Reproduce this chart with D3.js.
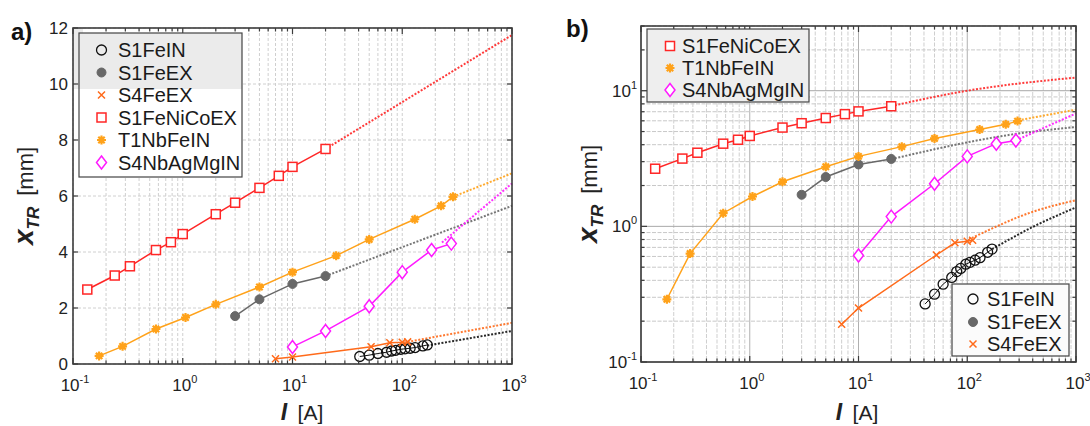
<!DOCTYPE html>
<html><head><meta charset="utf-8">
<script src="https://cdn.jsdelivr.net/npm/d3@7/dist/d3.min.js"></script>
<style>body{margin:0;background:#fff}svg{display:block;font-family:"Liberation Sans",Arial,sans-serif}</style>
</head><body><svg id="c" width="1090" height="426"></svg>
<script>
// ---------- data ----------
const seriesNames = ["S1FeIN","S1FeEX","S4FeEX","S1FeNiCoEX","T1NbFeIN","S4NbAgMgIN"];
const I_S1FeIN = [41,50,60,72,80,87,97,106,118,131,154,169];
const X_S1FeIN = [0.268,0.316,0.375,0.42,0.464,0.49,0.526,0.543,0.563,0.588,0.644,0.68];
const I_S1FeEX = [3,5,10,20];
const X_S1FeEX = [1.71,2.31,2.86,3.14];
const I_S4FeEX = [7,10,52,77,100,112];
const X_S4FeEX = [0.19,0.25,0.615,0.757,0.776,0.79];
const I_S1FeNiCoEX = [0.135,0.24,0.33,0.57,0.78,1.0,2.0,3.0,5.0,7.5,10,20];
const X_S1FeNiCoEX = [2.66,3.16,3.49,4.07,4.35,4.64,5.35,5.76,6.29,6.72,7.04,7.68];
const I_T1NbFeIN = [0.173,0.283,0.57,1.06,2.0,5.0,10,25,50,130,226,290];
const X_T1NbFeIN = [0.29,0.63,1.25,1.66,2.13,2.75,3.28,3.87,4.45,5.17,5.65,5.97];
const I_S4NbAgMgIN = [10,20,50,100,185,280];
const X_S4NbAgMgIN = [0.61,1.18,2.06,3.28,4.07,4.30];

// extrapolation (fit) lines, panel a (lin-log)
const fitA_I = {S1FeIN:[169,1000],S1FeEX:[20,1000],S4FeEX:[112,1000],S1FeNiCoEX:[20,1000],T1NbFeIN:[290,1000],S4NbAgMgIN:[230,1000]};
const fitA_X = {S1FeIN:[0.66,1.18],S1FeEX:[3.14,5.65],S4FeEX:[0.79,1.47],S1FeNiCoEX:[7.68,11.75],T1NbFeIN:[5.97,6.81],S4NbAgMgIN:[4.34,6.45]};
// extrapolation (fit) lines, panel b (log-log)
const fitB_I = {S1FeIN:[169,400,1000],S1FeEX:[20,294,1000],S4FeEX:[110,400,1000],S1FeNiCoEX:[20,100,1000],T1NbFeIN:[294,1000],S4NbAgMgIN:[280,1000]};
const fitB_X = {S1FeIN:[0.68,0.99,1.38],S1FeEX:[3.13,4.83,5.4],S4FeEX:[0.82,1.28,1.56],S1FeNiCoEX:[7.7,10.0,12.5],T1NbFeIN:[6.05,7.25],S4NbAgMgIN:[4.3,6.8]};

const yTicksA = [0,2,4,6,8,10,12];
const xMajor = [0.1,1,10,100,1000];
const yMajorB = [0.1,1,10];

// ---------- styles ----------
const colors = {S1FeIN:"#111",S1FeEX:"#686868",S4FeEX:"#ff6a1a",S1FeNiCoEX:"#ff2626",T1NbFeIN:"#ffa21a",S4NbAgMgIN:"#ff1aff"};
const markerType = {S1FeIN:"circleOpen",S1FeEX:"circleFill",S4FeEX:"x",S1FeNiCoEX:"square",T1NbFeIN:"star",S4NbAgMgIN:"diamond"};
const data = {
  S1FeIN:[I_S1FeIN,X_S1FeIN], S1FeEX:[I_S1FeEX,X_S1FeEX], S4FeEX:[I_S4FeEX,X_S4FeEX],
  S1FeNiCoEX:[I_S1FeNiCoEX,X_S1FeNiCoEX], T1NbFeIN:[I_T1NbFeIN,X_T1NbFeIN], S4NbAgMgIN:[I_S4NbAgMgIN,X_S4NbAgMgIN]
};
const zip = (a,b)=>a.map((v,i)=>[v,b[i]]);
const svg = d3.select("#c");

function drawMarker(g, type, x, y, color){
  if(type==="circleOpen") g.append("circle").attr("cx",x).attr("cy",y).attr("r",5).attr("fill","none").attr("stroke",color).attr("stroke-width",1.3);
  else if(type==="circleFill") g.append("circle").attr("cx",x).attr("cy",y).attr("r",4.5).attr("fill",color).attr("stroke",color);
  else if(type==="square") g.append("rect").attr("x",x-4.5).attr("y",y-4.5).attr("width",9).attr("height",9).attr("fill","#fff").attr("stroke",color).attr("stroke-width",1.5);
  else if(type==="diamond") g.append("path").attr("d",`M${x},${y-6.5}L${x+5},${y}L${x},${y+6.5}L${x-5},${y}Z`).attr("fill","#fff").attr("stroke",color).attr("stroke-width",1.5);
  else if(type==="x") g.append("path").attr("d",`M${x-3.5},${y-3.5}L${x+3.5},${y+3.5}M${x-3.5},${y+3.5}L${x+3.5},${y-3.5}`).attr("stroke",color).attr("stroke-width",1.5);
  else if(type==="star"){
    const r=4.5, q=3.2;
    g.append("path").attr("d",`M${x-r},${y}L${x+r},${y}M${x},${y-r}L${x},${y+r}M${x-q},${y-q}L${x+q},${y+q}M${x-q},${y+q}L${x+q},${y-q}`).attr("stroke",color).attr("stroke-width",2.2);
    g.append("circle").attr("cx",x).attr("cy",y).attr("r",2.6).attr("fill",color);
  }
}

function sup(textSel, base, exp){
  textSel.append("tspan").text(base);
  textSel.append("tspan").attr("font-size",11).attr("dy",-8).text(exp);
}

function panel(cfg){
  const {L,R,T,B,yLog} = cfg;
  const g = svg.append("g");
  const x = d3.scaleLog().domain([0.1,1000]).range([L,R]);
  const y = yLog ? d3.scaleLog().domain([0.1,30]).range([B,T]) : d3.scaleLinear().domain([0,12]).range([B,T]);
  const xt = x.ticks();
  // background artifact
  if(cfg.bgRect) g.append("rect").attr("x",cfg.bgRect[0]).attr("y",cfg.bgRect[1]).attr("width",cfg.bgRect[2]).attr("height",cfg.bgRect[3]).attr("fill","#ebebeb");
  // grid
  const grid = g.append("g");
  xt.forEach(v=>{
    const maj = xMajor.includes(v);
    grid.append("line").attr("x1",x(v)).attr("x2",x(v)).attr("y1",T).attr("y2",B)
      .attr("stroke", yLog ? (maj?"#b0b0b0":"#cfcfcf") : "#cfcfcf").attr("stroke-width",1)
      .attr("stroke-dasharray", yLog ? (maj?null:"4,1.5") : "3,2");
  });
  const yt = yLog ? y.ticks() : yTicksA;
  yt.forEach(v=>{
    const maj = yLog ? yMajorB.includes(v) : true;
    grid.append("line").attr("x1",L).attr("x2",R).attr("y1",y(v)).attr("y2",y(v))
      .attr("stroke", yLog ? (maj?"#a8a8a8":"#c8c8c8") : "#d0d0d0").attr("stroke-width",1)
      .attr("stroke-dasharray", yLog ? (maj?null:"4,1.5") : "3,2");
  });
  // fits
  const fI = cfg.fitI, fX = cfg.fitX;
  const lineGen = d3.line().x(d=>x(d[0])).y(d=>y(d[1])).curve(yLog? d3.curveMonotoneX : d3.curveLinear);
  seriesNames.forEach(n=>{
    g.append("path").attr("d",lineGen(zip(fI[n],fX[n]))).attr("fill","none")
      .attr("stroke",colors[n]).attr("stroke-width",2).attr("stroke-dasharray","2,1.6").attr("opacity",0.9);
  });
  // data lines
  const dl = d3.line().x(d=>x(d[0])).y(d=>y(d[1]));
  seriesNames.forEach(n=>{
    g.append("path").attr("d",dl(zip(data[n][0],data[n][1]))).attr("fill","none")
      .attr("stroke",colors[n]).attr("stroke-width", n==="S1FeIN"?1:1.5);
  });
  seriesNames.forEach(n=>{
    zip(data[n][0],data[n][1]).forEach(p=>drawMarker(g,markerType[n],x(p[0]),y(p[1]),colors[n]));
  });
  // box & ticks
  const ax = g.append("g").attr("stroke","#3c3c3c");
  ax.append("rect").attr("x",L).attr("y",T).attr("width",R-L).attr("height",B-T).attr("fill","none").attr("stroke-width",1.6);
  xt.forEach(v=>{
    const len = xMajor.includes(v)?6:3.5;
    ax.append("line").attr("x1",x(v)).attr("x2",x(v)).attr("y1",B).attr("y2",B-len).attr("stroke-width",1.2);
    ax.append("line").attr("x1",x(v)).attr("x2",x(v)).attr("y1",T).attr("y2",T+len).attr("stroke-width",1.2);
  });
  yt.forEach(v=>{
    const len = yLog ? (yMajorB.includes(v)?6:3.5) : 5;
    ax.append("line").attr("x1",L).attr("x2",L+len).attr("y1",y(v)).attr("y2",y(v)).attr("stroke-width",1.2);
    ax.append("line").attr("x1",R).attr("x2",R-len).attr("y1",y(v)).attr("y2",y(v)).attr("stroke-width",1.2);
  });
  // tick labels
  const tl = g.append("g").attr("font-size",17).attr("fill","#222");
  xMajor.forEach(v=>{
    const t = tl.append("text").attr("x",x(v)+2).attr("y",B+27).attr("text-anchor","middle");
    sup(t,"10",String(Math.round(Math.log10(v))).replace("-","-"));
  });
  if(yLog){
    yMajorB.forEach(v=>{
      const t = tl.append("text").attr("x",L-4).attr("y",y(v)+6).attr("text-anchor","end");
      sup(t,"10",String(Math.round(Math.log10(v))));
    });
  } else {
    yTicksA.forEach(v=>{
      tl.append("text").attr("x",L-5).attr("y",y(v)+6).attr("text-anchor","end").text(v);
    });
  }
  // axis titles
  const xtT = g.append("text").attr("x",cfg.xTitleX).attr("y",420).attr("text-anchor","middle").attr("fill","#222");
  xtT.append("tspan").attr("font-size",23).attr("font-weight","bold").attr("font-style","italic").text("I");
  xtT.append("tspan").attr("font-size",21).text("\u2002[A]");
  const ytT = g.append("text").attr("transform",`translate(${cfg.yTitleX},${(T+B)/2}) rotate(-90)`).attr("text-anchor","middle").attr("fill","#222");
  ytT.append("tspan").attr("font-size",28).attr("font-weight","bold").attr("font-style","italic").text("x");
  ytT.append("tspan").attr("font-size",17).attr("font-weight","bold").attr("font-style","italic").attr("dy",6).text("TR");
  ytT.append("tspan").attr("font-size",22).attr("dy",-6).text("\u2002[mm]");
  // panel letter
  g.append("text").attr("x",cfg.letter[1]).attr("y",cfg.letter[2]).attr("font-size",24).attr("font-weight","bold").attr("fill","#111").text(cfg.letter[0]);
  return g;
}

function legend(g, box, names, mx, tx, rows, fill, topFill){
  g.append("rect").attr("x",box[0]).attr("y",box[1]).attr("width",box[2]).attr("height",box[3]).attr("fill",fill);
  if(topFill) g.append("rect").attr("x",topFill[0]).attr("y",topFill[1]).attr("width",topFill[2]).attr("height",topFill[3]).attr("fill","#ebebeb");
  g.append("rect").attr("x",box[0]).attr("y",box[1]).attr("width",box[2]).attr("height",box[3]).attr("fill","none").attr("stroke","#444").attr("stroke-width",1.2);
  names.forEach((n,i)=>{
    drawMarker(g, markerType[n], mx, rows[i], colors[n]);
    g.append("text").attr("x",tx).attr("y",rows[i]+7).attr("font-size",20).attr("fill","#1a1a1a").text(n);
  });
}

const gA = panel({L:73,R:512,T:28,B:364,yLog:false,fitI:fitA_I,fitX:fitA_X,xTitleX:302,yTitleX:33,letter:["a)",11,40]});
legend(gA,[79,33,163,144],seriesNames,101.5,118,[50,72.5,95,117.5,140,162.5],"#fff",[79,33,163,56]);
// gray band to the left of legend in panel a
gA.insert("rect",":first-child").attr("x",73).attr("y",28).attr("width",10).attr("height",61).attr("fill","#ebebeb");

const gB = panel({L:641,R:1076,T:26,B:362,yLog:true,fitI:fitB_I,fitX:fitB_X,xTitleX:857,yTitleX:597,letter:["b)",566,37]});
legend(gB,[647,29,162,73],["S1FeNiCoEX","T1NbFeIN","S4NbAgMgIN"],670,682,[46,68,90],"#eeeeee");
legend(gB,[952,284,117,72],["S1FeIN","S1FeEX","S4FeEX"],973,987,[299,322,344],"#fbfbfb");
</script></body></html>
